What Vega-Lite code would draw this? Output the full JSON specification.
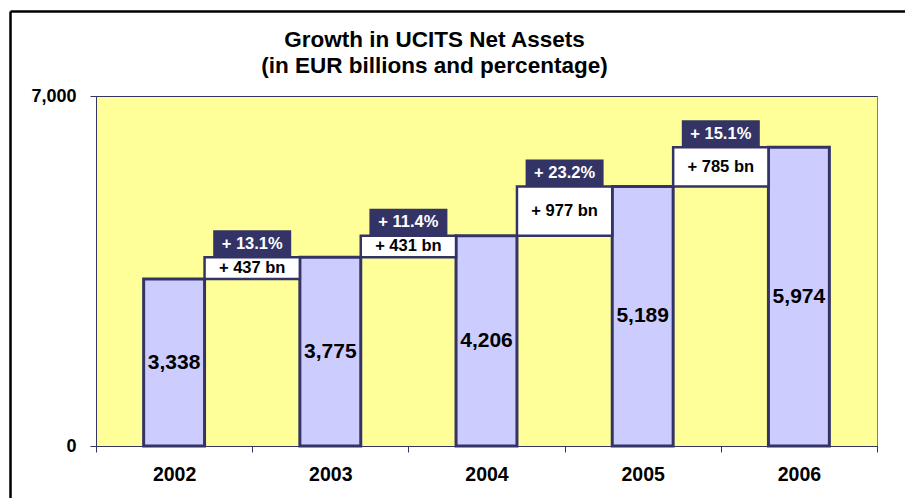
{
  "$schema": "https://vega.github.io/schema/vega-lite/v6.json",
  "autosize": "none",
  "width": 781,
  "height": 350,
  "padding": {"left": 96, "top": 96, "right": 28, "bottom": 52},
  "background": "white",
  "config": {
    "font": "Liberation Sans",
    "view": {"fill": "#FFFF99", "stroke": "#808080", "strokeWidth": 1}
  },
  "title": {
    "text": ["Growth in UCITS Net Assets", "(in EUR billions and percentage)"],
    "fontSize": 22.5,
    "fontWeight": "bold",
    "font": "Liberation Sans",
    "color": "#000000",
    "lineHeight": 26,
    "anchor": "middle",
    "baseline": "bottom",
    "offset": -89,
    "dx": -52
  },
  "datasets": {
    "totals": [
      {"year": "2002", "value": 3338},
      {"year": "2003", "value": 3775},
      {"year": "2004", "value": 4206},
      {"year": "2005", "value": 5189},
      {"year": "2006", "value": 5974}
    ],
    "changes": [
      {"year": "2002", "start": 3338, "end": 3775, "diff": "+ 437 bn", "pct": "+ 13.1%"},
      {"year": "2003", "start": 3775, "end": 4206, "diff": "+ 431 bn", "pct": "+ 11.4%"},
      {"year": "2004", "start": 4206, "end": 5189, "diff": "+ 977 bn", "pct": "+ 23.2%"},
      {"year": "2005", "start": 5189, "end": 5974, "diff": "+ 785 bn", "pct": "+ 15.1%"}
    ]
  },
  "resolve": {"scale": {"x": "independent", "y": "independent"}},
  "layer": [
    {
      "data": {"values": [{"f": 0}]},
      "mark": {"type": "point", "opacity": 0},
      "encoding": {
        "x": {
          "field": "f", "type": "quantitative",
          "scale": {"domain": [0, 1], "range": [-86, 834], "nice": false, "zero": false},
          "axis": {"orient": "top", "offset": 85, "domainColor": "#000000", "domainWidth": 2.5, "ticks": false, "labels": false, "grid": false, "title": null}
        },
        "y": {
          "field": "f", "type": "quantitative",
          "scale": {"domain": [0, 1], "range": [420, -85], "nice": false, "zero": false},
          "axis": {"orient": "left", "offset": 86, "domainColor": "#000000", "domainWidth": 2.5, "ticks": false, "labels": false, "grid": false, "title": null}
        }
      }
    },
    {
      "encoding": {
        "x": {
          "field": "year", "type": "ordinal",
          "scale": {"type": "band", "domain": ["2002", "2003", "2004", "2005", "2006"], "paddingInner": 0, "paddingOuter": 0},
          "axis": {"orient": "bottom", "title": null, "tickBand": "extent", "labelAngle": 0, "labelFontSize": 19.5, "labelFontWeight": "bold", "labelColor": "#000000", "labelPadding": 13, "tickSize": 6, "tickColor": "#333366", "domainColor": "#333366", "grid": false}
        }
      },
      "layer": [
        {
          "data": {"name": "totals"},
          "mark": {"type": "bar", "width": {"band": 0.39}, "fill": "#CCCCFF", "stroke": "#333366", "strokeWidth": 3},
          "encoding": {
            "y": {
              "field": "value", "type": "quantitative",
              "scale": {"domain": [0, 7000], "nice": false, "zero": true},
              "axis": {"orient": "left", "values": [0, 7000], "labelExpr": "format(datum.value, ',')", "title": null, "labelFontSize": 18, "labelFontWeight": "bold", "labelColor": "#000000", "labelPadding": 14, "tickSize": 6, "tickColor": "#333366", "domainColor": "#333366", "grid": true, "gridColor": "#333366", "gridWidth": 1, "gridOpacity": 1}
            }
          }
        },
        {
          "data": {"name": "changes"},
          "mark": {"type": "bar", "width": {"band": 0.61}, "xOffset": 78.1, "fill": "#FFFFFF", "stroke": "#333366", "strokeWidth": 2.5},
          "encoding": {
            "y": {"field": "start", "type": "quantitative"},
            "y2": {"field": "end"}
          }
        },
        {
          "data": {"name": "changes"},
          "mark": {"type": "point", "shape": "M-1,-0.346L1,-0.346L1,0.346L-1,0.346Z", "size": 6084, "filled": true, "fill": "#333366", "opacity": 1, "strokeWidth": 0, "xOffset": 78.1, "yOffset": -13.5},
          "encoding": {
            "y": {"field": "end", "type": "quantitative"}
          }
        },
        {
          "data": {"name": "totals"},
          "transform": [{"calculate": "datum.value / 2", "as": "mid"}],
          "mark": {"type": "text", "fontSize": 21, "fontWeight": "bold", "color": "#000000", "baseline": "middle"},
          "encoding": {
            "y": {"field": "mid", "type": "quantitative"},
            "text": {"field": "value", "type": "quantitative", "format": ","}
          }
        },
        {
          "data": {"name": "changes"},
          "transform": [{"calculate": "(datum.start + datum.end) / 2", "as": "mid"}],
          "mark": {"type": "text", "fontSize": 16.5, "fontWeight": "bold", "color": "#000000", "baseline": "middle", "xOffset": 78.1},
          "encoding": {
            "y": {"field": "mid", "type": "quantitative"},
            "text": {"field": "diff", "type": "nominal"}
          }
        },
        {
          "data": {"name": "changes"},
          "mark": {"type": "text", "fontSize": 16.5, "fontWeight": "bold", "color": "#FFFFFF", "baseline": "middle", "xOffset": 78.1, "yOffset": -13.5},
          "encoding": {
            "y": {"field": "end", "type": "quantitative"},
            "text": {"field": "pct", "type": "nominal"}
          }
        }
      ]
    }
  ]
}
